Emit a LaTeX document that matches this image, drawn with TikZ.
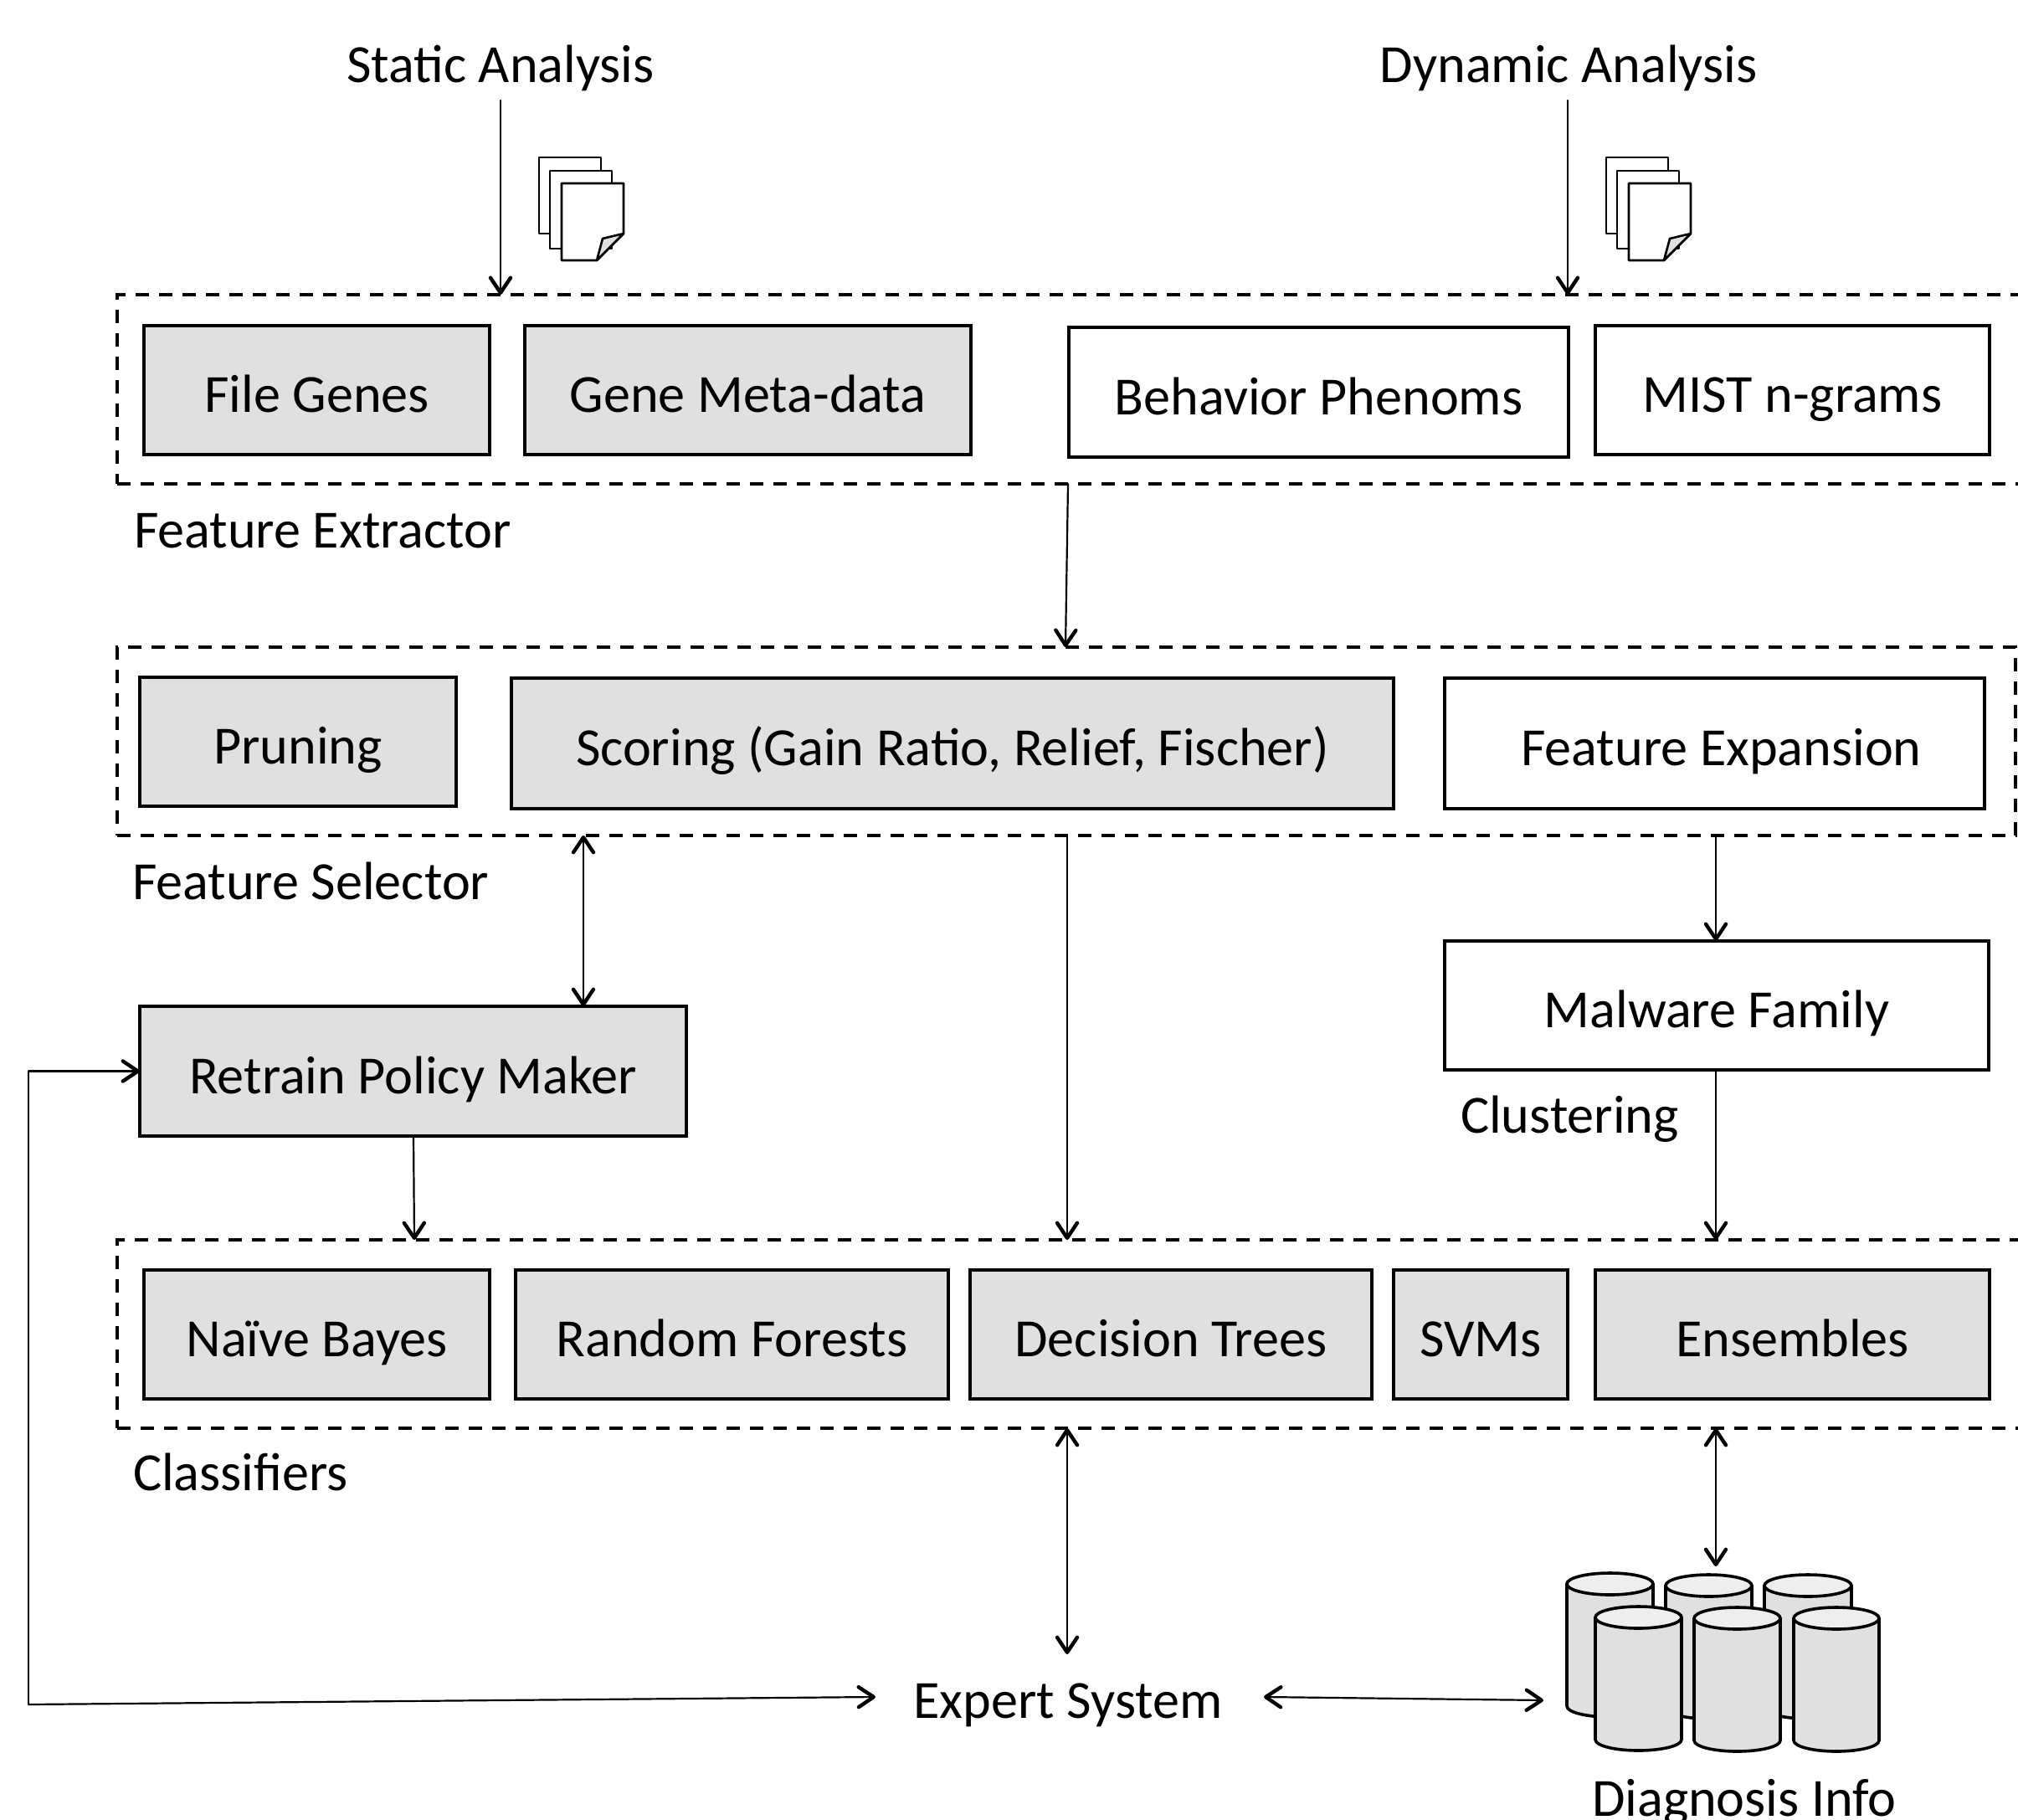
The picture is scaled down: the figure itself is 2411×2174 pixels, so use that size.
\documentclass[tikz,border=0pt]{standalone}
\usepackage{fontspec}
\setmainfont{Carlito}
\usetikzlibrary{arrows.meta,calc}
\definecolor{boxgrey}{HTML}{E0E0E0}
\definecolor{topgrey}{HTML}{EEEEEE}
\tikzset{
  x=0.5pt,y=-0.5pt,
  every node/.style={font=\fontsize{32.1pt}{38pt}\selectfont,text=black,outer sep=0pt,inner sep=0pt},
  solidbox/.style={draw=black,line width=1.7pt,fill=#1,text height=26.5pt,text depth=0pt},
  solidbox/.default=white,
  groupbox/.style={draw=black,line width=1.9pt,dash pattern=on 8pt off 6pt},
  plain/.style={anchor=base},
  plainleft/.style={anchor=base west},
  link/.style={line width=1.1pt,line cap=round,
    -{Straight Barb[length=9pt,width=12pt,line width=2.2pt,round]}},
  linkboth/.style={line width=1.1pt,line cap=round,
    {Straight Barb[length=9pt,width=12pt,line width=2.2pt,round]}-{Straight Barb[length=9pt,width=12pt,line width=2.2pt,round]}},
  elbow/.style={line width=1.1pt,line join=round},
  sheet/.style={draw=black,line width=1.3pt,fill=white,line join=round},
  cylbody/.style={draw=black,line width=1.8pt,fill=boxgrey,line join=round},
  cyltop/.style={draw=black,line width=1.8pt,fill=topgrey},
}
% name, x1,y1,x2,y2, style, text
\newcommand{\rbox}[7]{\node[#6,minimum width={(#4-#2)*0.5pt},minimum height={(#5-#3)*0.5pt},anchor=center]
  (#1) at ({(#2+#4)/2},{(#3+#5)/2}) {#7};}
% pile of sheets: x offset
\newcommand{\sheets}[1]{\begin{scope}[xshift=#1*0.5pt]
  \draw[sheet] (644,188) rectangle (718,279);
  \draw[sheet] (657,204) rectangle (731,297);
  \draw[sheet] (671,219) -- (745,219) -- (745,279) -- (713,311) -- (671,311) -- cycle;
  \draw[sheet,fill=boxgrey] (745,279) -- (720,285) -- (713,311) -- cycle;
\end{scope}}
% cylinder: left, right, top centre y
\newcommand{\cyl}[3]{%
  \draw[cylbody] (#1,#3) -- (#1,{#3+146}) arc[start angle=180,end angle=0,x radius={(#2-#1)/2},y radius=13] -- (#2,#3) -- cycle;
  \draw[cyltop] ({(#1+#2)/2},#3) ellipse[x radius={(#2-#1)/2},y radius=13];}
\begin{document}
\begin{tikzpicture}
\useasboundingbox (0,0) rectangle (2411,2174);
\clip (0,0) rectangle (2411,2174);
\fill[white] (0,0) rectangle (2411,2174);

% groups
\rbox{extractor}{140}{352}{2440}{578}{groupbox}{}
\rbox{selector}{140}{773}{2408}{998}{groupbox}{}
\rbox{classifiers}{140}{1481}{2440}{1706}{groupbox}{}

% boxes
\rbox{filegenes}{172}{389}{585}{543}{solidbox=boxgrey}{File Genes}
\rbox{genemeta}{627}{389}{1160}{543}{solidbox=boxgrey}{Gene Meta-data}
\rbox{behavior}{1277}{391}{1874}{546}{solidbox}{Behavior Phenoms}
\rbox{mist}{1906}{389}{2377}{543}{solidbox}{MIST n-grams}
\rbox{pruning}{167}{809}{545}{963}{solidbox=boxgrey}{Pruning}
\rbox{scoring}{611}{810}{1665}{966}{solidbox=boxgrey}{Scoring (Gain Ratio, Relief, Fischer)}
\rbox{expansion}{1726}{810}{2371}{966}{solidbox}{\hspace*{8pt}Feature Expansion}
\rbox{malware}{1726}{1124}{2376}{1278}{solidbox}{Malware Family}
\rbox{retrain}{167}{1202}{820}{1357}{solidbox=boxgrey}{Retrain Policy Maker}
\rbox{bayes}{172}{1517}{585}{1671}{solidbox=boxgrey}{Naïve Bayes}
\rbox{forests}{616}{1517}{1133}{1671}{solidbox=boxgrey}{Random Forests}
\rbox{trees}{1159}{1517}{1639}{1671}{solidbox=boxgrey}{Decision Trees}
\rbox{svms}{1665}{1517}{1873}{1671}{solidbox=boxgrey}{SVMs}
\rbox{ensembles}{1906}{1517}{2377}{1671}{solidbox=boxgrey}{Ensembles}

% labels
\node[plain] (static) at (598,98) {Static Analysis};
\node[plain] (dynamic) at (1874,98) {Dynamic Analysis};
\node[plainleft] (lblextractor) at (160,654) {Feature Extractor};
\node[plainleft] (lblselector) at (158,1074) {Feature Selector};
\node[plainleft] (lblclustering) at (1745,1353) {Clustering};
\node[plainleft] (lblclassifiers) at (159,1780) {Classifiers};
\node[plain] (expert) at (1276,2052) {Expert System};
\node[plain] (diagnosis) at (2084,2169) {Diagnosis Info};

% icons
\sheets{0}
\sheets{1275}
\cyl{1872}{1975}{1892}
\cyl{1990}{2093}{1894}
\cyl{2108}{2212}{1894}
\cyl{1906}{2009}{1932}
\cyl{2024}{2127}{1933}
\cyl{2143}{2245}{1933}

% connector columns
\coordinate (colstatic) at (598,0);
\coordinate (coldyn) at (1873,0);
\coordinate (colex) at (1276,0);
\coordinate (colse) at (1273,0);
\coordinate (colpol) at (697,0);
\coordinate (colmid) at (1275,0);
\coordinate (colright) at (2050,0);
\coordinate (colret) at (494,0);
\coordinate (colretb) at (495,0);
\coordinate (colfar) at (34,0);
\coordinate (corner) at (34,2036);
\coordinate (statictail) at (598,120);
\coordinate (dyntail) at (1873,120);
\coordinate (experttop) at (1275,1976);
\coordinate (diagtop) at (2050,1871);
\coordinate (expertwest) at (1046,2027);
\coordinate (expertout) at (1510,2027);
\coordinate (diagwest) at (1844,2031);

% connectors
\draw[link] (statictail) -- (extractor.north -| colstatic);
\draw[link] (dyntail) -- (extractor.north -| coldyn);
\draw[link] (extractor.south -| colex) -- (selector.north -| colse);
\draw[linkboth] (selector.south -| colpol) -- (retrain.north -| colpol);
\draw[link] (selector.south -| colmid) -- (classifiers.north -| colmid);
\draw[link] (selector.south -| colright) -- (malware.north -| colright);
\draw[link] (malware.south -| colright) -- (classifiers.north -| colright);
\draw[link] (retrain.south -| colret) -- (classifiers.north -| colretb);
\draw[linkboth] (classifiers.south -| colmid) -- (experttop);
\draw[linkboth] (classifiers.south -| colright) -- (diagtop);
\draw[link] (retrain.west -| colfar) -- (retrain.west);
\draw[elbow] (retrain.west -| colfar) -- (corner);
\draw[link] (corner) -- (expertwest);
\draw[linkboth] (expertout) -- (diagwest);
\end{tikzpicture}
\end{document}
